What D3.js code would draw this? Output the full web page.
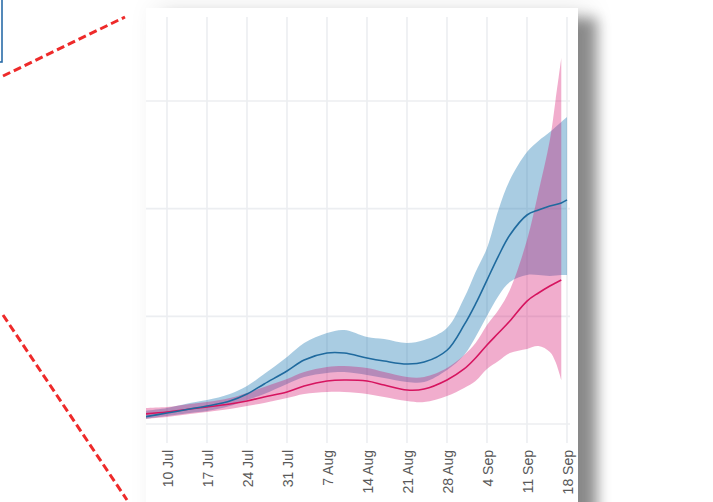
<!DOCTYPE html>
<html><head><meta charset="utf-8">
<script src="https://cdn.jsdelivr.net/npm/d3@7"></script>
<style>html,body{margin:0;padding:0;background:#fff;}svg{display:block;}</style>
</head><body>
<svg id="chart" width="713" height="502"></svg>
<script>
// ---- data ----
const blueDates = ["2020-07-06","2020-07-10","2020-07-14","2020-07-17","2020-07-21","2020-07-24","2020-07-27","2020-07-31","2020-08-03","2020-08-07","2020-08-10","2020-08-14","2020-08-17","2020-08-21","2020-08-24","2020-08-28","2020-08-31","2020-09-02","2020-09-04","2020-09-06","2020-09-08","2020-09-11","2020-09-13","2020-09-15","2020-09-17","2020-09-18"];
const blueMid   = [6.5,10.2,13.9,16.7,21.4,27.9,37.2,49.2,59.4,65.9,65.9,61.3,58.5,55.7,57.5,68.5,92.0,111.5,133.7,156.0,175.5,194.1,198.8,202.5,205.3,208.1];
const blueUpper = [12.1,14.9,19.5,22.3,27.9,35.3,46.4,62.2,75.2,84.5,87.3,80.8,78.9,75.2,78.0,89.2,117.0,141.2,163.5,198.8,226.6,252.6,262.9,271.2,280.5,285.1];
const blueLower = [4.6,7.4,10.2,12.1,16.7,22.3,27.9,37.2,43.7,47.4,48.3,45.5,42.7,39.0,39.0,50.2,64.1,80.8,100.3,118.9,131.9,138.4,138.4,137.5,138.4,138.4];

const pinkDates = ["2020-07-06","2020-07-10","2020-07-14","2020-07-17","2020-07-21","2020-07-24","2020-07-27","2020-07-31","2020-08-03","2020-08-07","2020-08-10","2020-08-14","2020-08-17","2020-08-21","2020-08-24","2020-08-28","2020-08-31","2020-09-02","2020-09-04","2020-09-06","2020-09-08","2020-09-11","2020-09-13","2020-09-15","2020-09-16","2020-09-17"];
const pinkMid   = [9.3,11.1,13.9,15.8,18.6,21.4,25.1,29.7,35.3,39.9,40.9,39.9,36.2,31.6,32.5,40.9,51.1,61.3,73.4,84.5,95.7,114.2,121.7,128.2,131.0,133.7];
const pinkUpper = [14.9,15.8,18.6,20.4,24.1,28.8,34.4,41.8,48.3,52.9,53.9,52.0,48.3,43.7,43.7,52.0,64.1,75.2,92.0,105.9,124.5,170.9,215.5,263.8,300.9,339.9];
const pinkLower = [4.6,6.5,9.3,11.1,13.9,16.7,19.5,24.1,27.9,29.7,29.7,27.9,25.1,21.4,20.4,26.0,33.4,39.9,51.1,58.5,65.9,69.7,72.4,66.9,57.6,40.9];

const tickDates  = ["2020-07-10","2020-07-17","2020-07-24","2020-07-31","2020-08-07","2020-08-14","2020-08-21","2020-08-28","2020-09-04","2020-09-11","2020-09-18"];
const tickLabels = ["10 Jul","17 Jul","24 Jul","31 Jul","7 Aug","14 Aug","21 Aug","28 Aug","4 Sep","11 Sep","18 Sep"];
const yGrid = [0,100,200,300];

// ---- drawing ----
const parse = d3.timeParse("%Y-%m-%d");
const svg = d3.select("#chart");
const defs = svg.append("defs");

const f = defs.append("filter").attr("id","shadow").attr("x","-20%").attr("y","-20%").attr("width","140%").attr("height","140%");
f.append("feGaussianBlur").attr("in","SourceAlpha").attr("stdDeviation",7).attr("result","b1");
f.append("feOffset").attr("in","b1").attr("dx",19).attr("dy",10).attr("result","o1");
f.append("feFlood").attr("flood-color","#000").attr("flood-opacity",0.42).attr("result","c1");
f.append("feComposite").attr("in","c1").attr("in2","o1").attr("operator","in").attr("result","s1");
f.append("feGaussianBlur").attr("in","SourceAlpha").attr("stdDeviation",13).attr("result","b2");
f.append("feOffset").attr("in","b2").attr("dx",10).attr("dy",0).attr("result","o2");
f.append("feFlood").attr("flood-color","#000").attr("flood-opacity",0.10).attr("result","c2");
f.append("feComposite").attr("in","c2").attr("in2","o2").attr("operator","in").attr("result","s2");
const m = f.append("feMerge");
m.append("feMergeNode").attr("in","s2");
m.append("feMergeNode").attr("in","s1");
m.append("feMergeNode").attr("in","SourceGraphic");

defs.append("clipPath").attr("id","plotclip").append("rect")
  .attr("x",146).attr("y",8).attr("width",424).attr("height",440);

// annotation elements on the left
svg.append("rect").attr("x",-10).attr("y",-10).attr("width",12).attr("height",72)
  .attr("fill","none").attr("stroke","#2a6ca8").attr("stroke-width",1.6);
svg.append("line").attr("x1",3).attr("y1",76).attr("x2",125).attr("y2",17)
  .attr("stroke","#ee2a2a").attr("stroke-width",3).attr("stroke-dasharray","8,4");
svg.append("line").attr("x1",3).attr("y1",315).attr("x2",127).attr("y2",500)
  .attr("stroke","#ee2a2a").attr("stroke-width",3).attr("stroke-dasharray","8,4");

// panel
svg.append("rect").attr("x",146).attr("y",8).attr("width",432).attr("height",560)
  .attr("fill","#fff").attr("filter","url(#shadow)");

const x = d3.scaleTime().domain([parse("2020-07-10"), parse("2020-09-18")]).range([167, 567]);
const y = d3.scaleLinear().domain([0, 400]).range([424, 424 - 4*107.67]);

const g = svg.append("g");
// grid
g.selectAll("line.v").data(tickDates).join("line").attr("class","v")
  .attr("x1",d=>x(parse(d))).attr("x2",d=>x(parse(d)))
  .attr("y1",17).attr("y2",443).attr("stroke","#eceef1").attr("stroke-width",1.6);
g.selectAll("line.h").data(yGrid).join("line").attr("class","h")
  .attr("x1",146).attr("x2",570).attr("y1",d=>y(d)).attr("y2",d=>y(d))
  .attr("stroke","#eceef1").attr("stroke-width",1.6);

// tick labels
g.selectAll("text.t").data(tickDates).join("text").attr("class","t")
  .attr("transform",d=>`translate(${x(parse(d))+5.5},450) rotate(-90)`)
  .attr("text-anchor","end")
  .attr("font-family","'Liberation Sans', Arial, sans-serif").attr("font-size",14)
  .attr("fill","#595959")
  .text((d,i)=>tickLabels[i]);

const blue = blueDates.map((d,i)=>({d:parse(d), m:blueMid[i], u:blueUpper[i], l:blueLower[i]}));
const pink = pinkDates.map((d,i)=>({d:parse(d), m:pinkMid[i], u:pinkUpper[i], l:pinkLower[i]}));

const curve = d3.curveCatmullRom.alpha(0.5);
const area = d3.area().x(p=>x(p.d)).y0(p=>y(p.l)).y1(p=>y(p.u)).curve(curve);
const line = d3.line().x(p=>x(p.d)).y(p=>y(p.m)).curve(curve);

const pg = svg.append("g").attr("clip-path","url(#plotclip)");
pg.append("path").datum(blue).attr("d",area).attr("fill","rgb(30,120,180)").attr("fill-opacity",0.38);
pg.append("path").datum(pink).attr("d",area).attr("fill","rgb(210,0,100)").attr("fill-opacity",0.32);
pg.append("path").datum(pink).attr("d",line).attr("fill","none").attr("stroke","#d6145f").attr("stroke-width",1.6);
pg.append("path").datum(blue).attr("d",line).attr("fill","none").attr("stroke","#1f6a9e").attr("stroke-width",1.6);
</script>
</body></html>
